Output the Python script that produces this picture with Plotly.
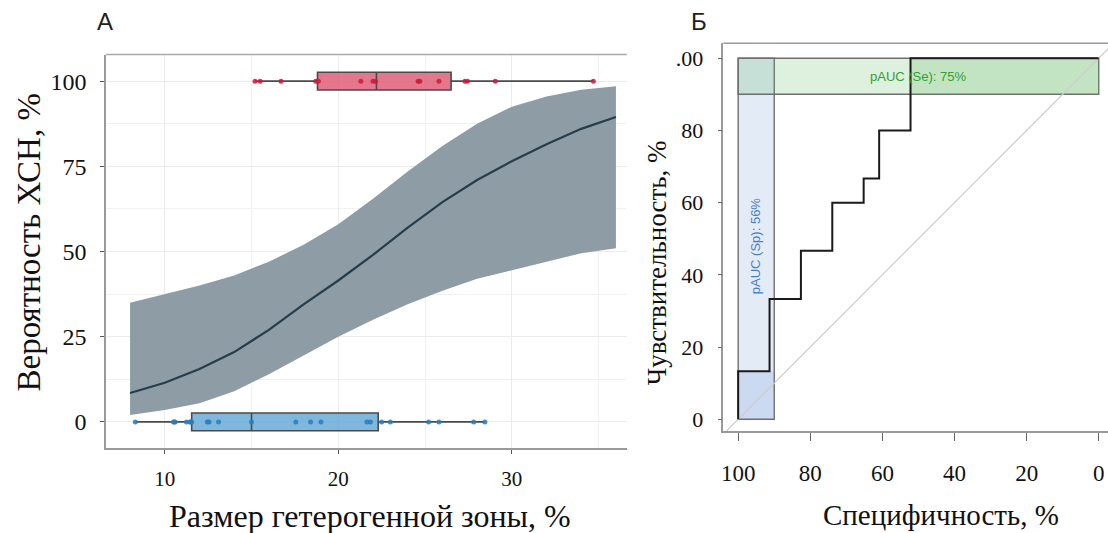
import plotly.graph_objects as go

W, H = 1108, 533

# ---------------- Panel A data ----------------
curve_x = [8, 10, 12, 14, 16, 18, 20, 22, 24, 26, 28, 30, 32, 34, 36]
curve_p = [8.5, 11.5, 15.5, 20.5, 27, 34.5, 41.5, 49, 57, 64.5, 71, 76.5, 81.5, 86, 89.5]
band_upper = [35, 37.5, 40, 43, 47, 52, 58, 65.5, 73.5, 81, 87.5, 92.5, 95.5, 97.5, 98.5]
band_lower = [2, 3.5, 5.5, 9, 14, 19.5, 25, 30, 34.5, 38.5, 42, 44.5, 47, 49.5, 51]

pos_sizes = [15.2, 15.5, 16.7, 18.7, 18.85, 21.3, 22.0, 22.15, 24.6, 24.7,
             25.8, 27.3, 27.45, 29.05, 34.7]
neg_sizes = [8.3, 10.5, 10.55, 10.6, 11.25, 11.45, 11.5, 11.55, 12.45, 12.55, 13.1,
             15.0, 17.55, 18.4, 19.0, 21.65, 21.85, 22.5, 23.0, 25.2, 25.8, 27.8, 28.45]
pos_box = dict(q1=18.8, median=22.2, q3=26.5, lo=15.2, hi=34.7)
neg_box = dict(q1=11.55, median=15.0, q3=22.3, lo=8.3, hi=28.45)
pos_level, neg_level = 100, 0

ax_a_xticks = [10, 20, 30]
ax_a_yticks = [0, 25, 50, 75, 100]

# ---------------- Panel B data ----------------
roc_spec = [100, 91.3, 82.6, 73.9, 65.2, 60.9, 52.2, 0]
roc_sens = [0, 13.3, 33.3, 46.7, 60, 66.7, 80, 100]
diag_x = [110, -10]
diag_y = [-10, 110]
sp_range = [100, 90]      # pAUC (Sp) specificity window
se_range = [90, 100]      # pAUC (Se) sensitivity window
sp_under = 13.3
se_under_from = 52.2
ax_b_ticks = [0, 20, 40, 60, 80, 100]
ax_b_yticktext = ["0", "20", "40", "60", "80", ".00"]
ax_b_xticktext = ["0", "20", "40", "60", "80", "100"]


def pxx(x):
    return x / W


def pxy(y):
    return 1 - y / H


SERIF = "Liberation Serif"
SANS = "Liberation Sans"

fig = go.Figure()

# band
fig.add_trace(go.Scatter(
    x=curve_x + curve_x[::-1], y=band_upper + band_lower[::-1],
    fill="toself", fillcolor="rgb(142,156,166)", line=dict(width=0),
    mode="lines", hoverinfo="skip", showlegend=False, xaxis="x", yaxis="y"))
fig.add_trace(go.Scatter(
    x=curve_x, y=curve_p, mode="lines", line=dict(color="rgb(38,62,76)", width=2.2),
    showlegend=False, xaxis="x", yaxis="y"))

# boxes
for st, lvl, fill in [(pos_box, pos_level, "rgba(224,95,120,0.85)"),
                      (neg_box, neg_level, "rgba(105,172,214,0.85)")]:
    fig.add_trace(go.Box(
        orientation="h", y=[lvl], q1=[st["q1"]], median=[st["median"]], q3=[st["q3"]],
        lowerfence=[st["lo"]], upperfence=[st["hi"]], width=5.2, whiskerwidth=0,
        fillcolor=fill, line=dict(color="#4a4a4a", width=1.6), boxpoints=False,
        showlegend=False, xaxis="x", yaxis="y"))

fig.add_trace(go.Scatter(
    x=pos_sizes, y=[pos_level] * len(pos_sizes), mode="markers",
    marker=dict(color="rgba(205,25,60,0.85)", size=5), showlegend=False,
    xaxis="x", yaxis="y"))
fig.add_trace(go.Scatter(
    x=neg_sizes, y=[neg_level] * len(neg_sizes), mode="markers",
    marker=dict(color="rgba(40,125,190,0.85)", size=5), showlegend=False,
    xaxis="x", yaxis="y"))

# ---------------- Panel B traces ----------------
fig.add_trace(go.Scatter(
    x=diag_x, y=diag_y, mode="lines", line=dict(color="rgb(205,205,205)", width=1.2),
    showlegend=False, xaxis="x2", yaxis="y2", hoverinfo="skip"))
fig.add_trace(go.Scatter(
    x=roc_spec, y=roc_sens, mode="lines", line=dict(color="#1a1a1a", width=2, shape="vh"),
    showlegend=False, xaxis="x2", yaxis="y2"))

shapes = []
blue = "rgba(90,135,210,0.17)"
green = "rgba(90,180,90,0.2)"
shapes.append(dict(type="rect", xref="x2", yref="y2", x0=sp_range[0], x1=sp_range[1],
                   y0=0, y1=100, fillcolor=blue, line=dict(color="#6e6e6e", width=1.4),
                   layer="below"))
shapes.append(dict(type="rect", xref="x2", yref="y2", x0=sp_range[0], x1=sp_range[1],
                   y0=0, y1=sp_under, fillcolor=blue, line=dict(width=0), layer="below"))
shapes.append(dict(type="rect", xref="x2", yref="y2", x0=100, x1=0,
                   y0=se_range[0], y1=se_range[1], fillcolor=green,
                   line=dict(color="#6e6e6e", width=1.4), layer="below"))
shapes.append(dict(type="rect", xref="x2", yref="y2", x0=se_under_from, x1=0,
                   y0=se_range[0], y1=se_range[1], fillcolor=green, line=dict(width=0),
                   layer="below"))
# top frame lines
shapes.append(dict(type="line", xref="paper", yref="paper", x0=pxx(104.3), x1=pxx(626),
                   y0=pxy(54.7), y1=pxy(54.7), line=dict(color="#a8a8a8", width=1.5)))
shapes.append(dict(type="line", xref="paper", yref="paper", x0=pxx(722.7), x1=1,
                   y0=pxy(43.3), y1=pxy(43.3), line=dict(color="#9a9a9a", width=1.5)))


def ann(text, x, y, size, family, xref="paper", yref="paper", angle=0, color="#111"):
    return dict(text=text, x=x, y=y, xref=xref, yref=yref, showarrow=False,
                xanchor="center", yanchor="middle", textangle=angle,
                font=dict(family=family, size=size, color=color))


annotations = [
    ann("А", pxx(103), pxy(22), 24, SANS, color="#222"),
    ann("Б", pxx(698), pxy(22), 24, SANS, color="#222"),
    ann("Вероятность ХСН, %", pxx(27), pxy(243), 33, SERIF, angle=-90),
    ann("Размер гетерогенной зоны, %", pxx(369), pxy(517), 32, SERIF),
    ann("Чувствительность, %", pxx(656), pxy(263), 27, SERIF, angle=-90),
    ann("Специфичность, %", pxx(941), pxy(516), 29, SERIF),
    ann("pAUC (Se): 75%", (se_under_from * 0 + 100) / 2, sum(se_range) / 2, 13, SANS,
        xref="x2", yref="y2", color="rgb(50,160,50)"),
    ann("pAUC (Sp): 56%", sum(sp_range) / 2, 48, 13, SANS, xref="x2", yref="y2",
        angle=-90, color="rgb(70,125,205)"),
]

grid = "#ECECEC"
fig.update_layout(
    width=W, height=H, margin=dict(l=0, r=0, t=0, b=0),
    paper_bgcolor="white", plot_bgcolor="white", showlegend=False,
    shapes=shapes, annotations=annotations,
    xaxis=dict(domain=[pxx(104.3), pxx(626)], range=[6.62, 36.63], tickvals=ax_a_xticks,
               showgrid=True, gridcolor=grid, gridwidth=1,
               minor=dict(tickvals=[15, 25, 35], showgrid=True, gridcolor="#F1F1F1"),
               showline=True, linecolor="#9a9a9a", linewidth=1.5, zeroline=False,
               ticks="outside", ticklen=4, tickcolor="#555",
               tickfont=dict(family=SERIF, size=21, color="#111"), ticklabelstandoff=7,
               anchor="y"),
    yaxis=dict(domain=[pxy(449), pxy(54.7)], range=[-7.70, 107.79], tickvals=ax_a_yticks,
               showgrid=True, gridcolor=grid, gridwidth=1,
               minor=dict(tickvals=[12.5, 37.5, 62.5, 87.5], showgrid=True,
                          gridcolor="#F1F1F1"),
               showline=True, linecolor="#9a9a9a", linewidth=1.5, zeroline=False,
               ticks="outside", ticklen=4, tickcolor="#555",
               tickfont=dict(family=SERIF, size=24, color="#111"), ticklabelstandoff=9,
               anchor="x"),
    xaxis2=dict(domain=[pxx(722.7), 1], range=[104.1, -2.57], tickvals=ax_b_ticks,
                ticktext=ax_b_xticktext, showgrid=False, zeroline=False,
                showline=True, linecolor="#9a9a9a", linewidth=1.5,
                ticks="outside", ticklen=8, tickcolor="#666",
                tickfont=dict(family=SERIF, size=23, color="#111"), ticklabelstandoff=12,
                anchor="y2"),
    yaxis2=dict(domain=[pxy(432), pxy(43.3)], range=[-3.3, 104.15], tickvals=ax_b_ticks,
                ticktext=ax_b_yticktext, showgrid=False, zeroline=False,
                showline=True, linecolor="#9a9a9a", linewidth=1.5,
                ticks="outside", ticklen=4, tickcolor="#666",
                tickfont=dict(family=SERIF, size=22, color="#111"), ticklabelstandoff=10,
                anchor="x2"),
)

fig.write_html("out.html")
